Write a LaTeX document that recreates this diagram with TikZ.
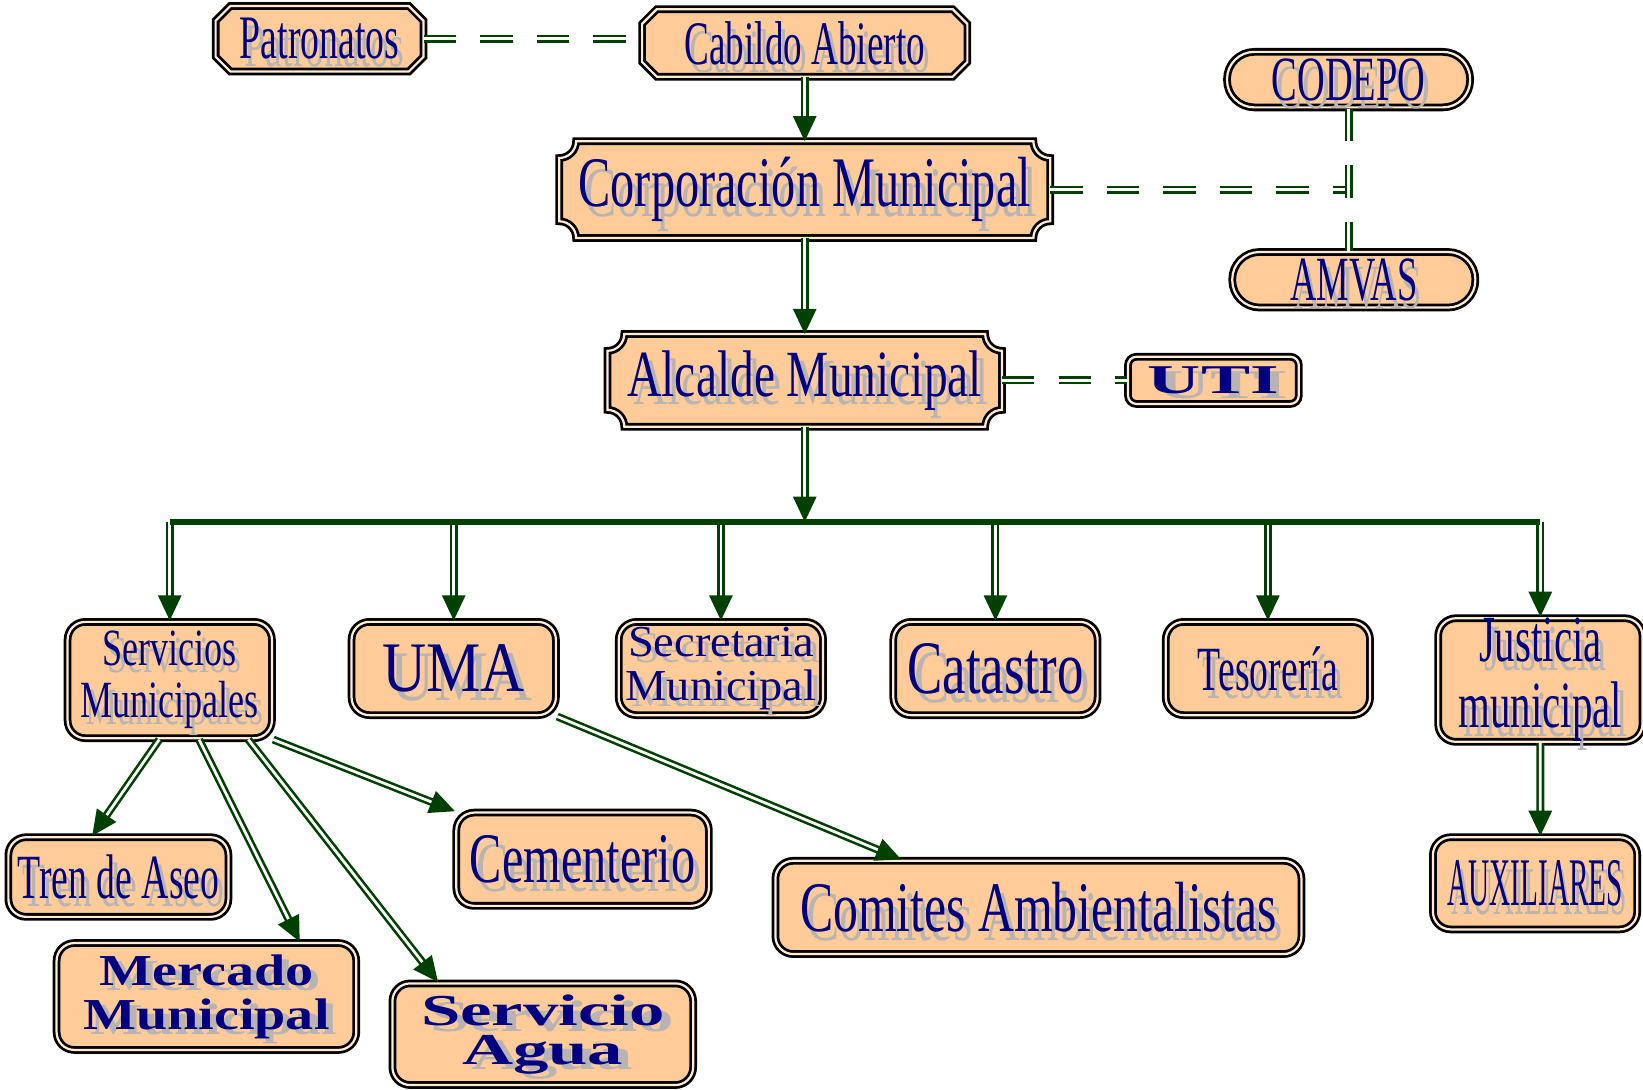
\documentclass[tikz,border=0pt]{standalone}
\usepackage{fontspec}
\setmainfont{Liberation Serif}
\usepackage{graphicx}
\usetikzlibrary{calc}
\usetikzlibrary{arrows.meta}
\usetikzlibrary{backgrounds}

\definecolor{durazno}{RGB}{255,204,153}
\definecolor{crema}{RGB}{255,236,214}
\definecolor{verde}{RGB}{0,64,0}
\definecolor{tinta}{RGB}{0,0,128}
\definecolor{gris}{RGB}{185,180,178}

\tikzset{
	marco/.style={draw=black,line width=0.75pt,double=crema,double distance=0.6pt},
	caja/.style={marco,fill=durazno,rounded corners=0.17cm,inner sep=0pt,align=center,minimum width=1.95cm,minimum height=0.89cm},
	capsula/.style={marco,fill=durazno,rounded corners=0.26cm,inner sep=0pt,minimum width=2.32cm,minimum height=0.53cm},
	rotulo/.style={inner sep=0pt,align=center},
	flecha/.style={draw=verde,line width=0.7pt,double=white,double distance=0.75pt,-{Triangle[length=0.24cm,width=0.22cm]}},
	enlace/.style={draw=verde,line width=0.7pt,double=white,double distance=0.75pt,dash pattern=on 0.31cm off 0.23cm},
	barra/.style={draw=verde,line width=1.5pt}
}

% texto azul con sombra gris
\newcommand{\sombra}[2]{\scalebox{#1}[1]{\rlap{\kern.13em\raisebox{-.13em}[0pt][0pt]{\color{gris}#2}}\textcolor{tinta}{#2}}}

\newcommand{\placa}[2]{%
	\path[marco,fill=durazno] ([xshift=#2]#1.north west) -- ([xshift=-#2]#1.north east) arc[start angle=180,end angle=270,radius=#2]
	-- ([yshift=#2]#1.south east) arc[start angle=90,end angle=180,radius=#2]
	-- ([xshift=#2]#1.south west) arc[start angle=0,end angle=90,radius=#2]
	-- ([yshift=-#2]#1.north west) arc[start angle=270,end angle=360,radius=#2] -- cycle;}

\newcommand{\ochava}[2]{%
	\path[marco,fill=durazno] ([xshift=#2]#1.north west) -- ([xshift=-#2]#1.north east) -- ([yshift=-#2]#1.north east)
	-- ([yshift=#2]#1.south east) -- ([xshift=-#2]#1.south east) -- ([xshift=#2]#1.south west)
	-- ([yshift=#2]#1.south west) -- ([yshift=-#2]#1.north west) -- cycle;}

\begin{document}
\begin{tikzpicture}
	\useasboundingbox (0,0) rectangle (15.68,-10.40);

	\node[rotulo,minimum width=1.97cm,minimum height=0.61cm,font=\fontsize{16.8}{17}\selectfont] (pat) at (3.05,-0.37) {\sombra{0.61}{Patronatos}};
	\node[rotulo,minimum width=3.09cm,minimum height=0.63cm,font=\fontsize{16.8}{17}\selectfont] (cab) at (7.68,-0.41) {\sombra{0.60}{Cabildo Abierto}};
	\node[rotulo,minimum width=4.67cm,minimum height=0.91cm,font=\fontsize{19.3}{20}\selectfont] (corp) at (7.68,-1.81) {\sombra{0.68}{Corporación Municipal}};
	\node[rotulo,minimum width=3.75cm,minimum height=0.87cm,font=\fontsize{17.9}{18}\selectfont] (alc) at (7.68,-3.63) {\sombra{0.72}{Alcalde Municipal}};
	\begin{scope}[on background layer]
		\ochava{pat}{0.14cm}
		\ochava{cab}{0.14cm}
		\placa{corp}{0.16cm}
		\placa{alc}{0.16cm}
	\end{scope}

	\node[capsula,font=\fontsize{17.1}{17}\selectfont] (codepo) at (12.87,-0.76) {\sombra{0.61}{CODEPO}};
	\node[capsula,font=\fontsize{17.1}{17}\selectfont] (amvas) at (12.92,-2.67) {\sombra{0.58}{AMVAS}};
	\node[caja,rounded corners=0.08cm,minimum width=1.63cm,minimum height=0.45cm,font=\bfseries\fontsize{11.1}{11}\selectfont] (uti) at (11.58,-3.63) {\sombra{1.8}{UTI}};

	\node[caja,minimum height=1.11cm,font=\fontsize{14.2}{14.2}\selectfont] (sm) at (1.62,-6.49) {\sombra{0.69}{Servicios}\\\sombra{0.69}{Municipales}};
	\node[caja,font=\fontsize{19.3}{20}\selectfont] (uma) at (4.33,-6.38) {\sombra{0.86}{UMA}};
	\node[caja,font=\fontsize{12}{12}\selectfont] (sec) at (6.88,-6.38) {\sombra{1.05}{Secretaria}\\\sombra{1.05}{Municipal}};
	\node[caja,font=\fontsize{20.5}{21}\selectfont] (cat) at (9.50,-6.38) {\sombra{0.70}{Catastro}};
	\node[caja,font=\fontsize{17.1}{17}\selectfont] (tes) at (12.10,-6.38) {\sombra{0.60}{Tesorería}};
	\node[caja,minimum height=1.11cm,font=\fontsize{17.9}{17.9}\selectfont] (jus) at (14.70,-6.49) {\sombra{0.62}{Justicia}\\\sombra{0.62}{municipal}};

	\node[caja,minimum width=2.10cm,minimum height=0.76cm,font=\fontsize{17.1}{17}\selectfont] (tren) at (1.13,-8.37) {\sombra{0.60}{Tren de Aseo}};
	\node[caja,minimum width=2.86cm,minimum height=1.02cm,font=\bfseries\fontsize{12}{12}\selectfont] (merc) at (1.97,-9.51) {\sombra{1.27}{Mercado}\\\sombra{1.27}{Municipal}};
	\node[caja,minimum width=2.87cm,minimum height=0.97cm,font=\bfseries\fontsize{12}{10.5}\selectfont] (agua) at (5.18,-9.87) {\sombra{1.6}{Servicio}\\\sombra{1.6}{Agua}};
	\node[caja,minimum width=2.41cm,font=\fontsize{19.3}{20}\selectfont] (cem) at (5.56,-8.20) {\sombra{0.68}{Cementerio}};
	\node[caja,minimum width=5.02cm,font=\fontsize{19.3}{20}\selectfont] (com) at (9.91,-8.66) {\sombra{0.70}{Comites Ambientalistas}};
	\node[caja,minimum height=0.88cm,font=\fontsize{18.5}{19}\selectfont] (aux) at (14.65,-8.43) {\sombra{0.43}{AUXILIARES}};

	\coordinate (bus) at (7.68,-4.98);

	\draw[enlace] (pat.east) -- (pat.east -| cab.west);
	\draw[enlace] (corp.east) -- (corp.east -| codepo.south);
	\draw[enlace] (codepo.south) -- (codepo.south |- amvas.north);
	\draw[enlace] (alc.east) -- (uti.west);

	\draw[flecha] (cab.south) -- (corp.north);
	\draw[flecha] (corp.south) -- (alc.north);
	\draw[flecha] (alc.south) -- (bus);
	\foreach \n in {sm,uma,sec,cat,tes,jus}
		\draw[flecha] (\n.north |- bus) -- (\n.north);
	\draw[barra] (sm.north |- bus) -- (jus.north |- bus);

	\draw[flecha] ([xshift=-0.10cm]sm.south) -- ([xshift=-0.25cm]tren.north);
	\draw[flecha] ([xshift=0.28cm]sm.south) -- ([xshift=0.89cm]merc.north);
	\draw[flecha] ([xshift=0.75cm]sm.south) -- ([xshift=-1.00cm]agua.north);
	\draw[flecha] (sm.south east) -- (cem.north west);
	\draw[flecha] (uma.south east) -- ([xshift=-1.31cm]com.north);
	\draw[flecha] (jus.south) -- ([xshift=0.05cm]aux.north);
\end{tikzpicture}
\end{document}
